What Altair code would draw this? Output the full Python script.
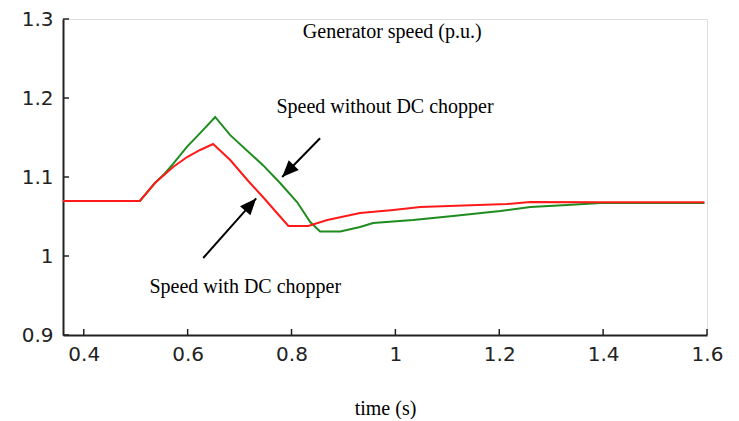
import altair as alt
import pandas as pd

# ---- data ----
red_t = [0.36, 0.508, 0.537, 0.572, 0.599, 0.624, 0.649, 0.682, 0.715, 0.745, 0.772,
         0.794, 0.832, 0.869, 0.932, 0.996, 1.048, 1.215, 1.260, 1.395, 1.595]
red_v = [1.0696, 1.0696, 1.0924, 1.1127, 1.1253, 1.1342, 1.1418, 1.1215, 1.0962, 1.0747, 1.0544,
         1.038, 1.038, 1.0456, 1.0544, 1.0582, 1.062, 1.0658, 1.0684, 1.068, 1.068]

green_t = [0.36, 0.508, 0.537, 0.556, 0.572, 0.599, 0.624, 0.653, 0.682, 0.745, 0.778, 0.811, 0.836,
           0.855, 0.894, 0.932, 0.957, 1.034, 1.111, 1.202, 1.260, 1.331, 1.395, 1.595]
green_v = [1.0696, 1.0696, 1.0924, 1.1045, 1.1165, 1.1385, 1.1555, 1.176, 1.153, 1.115, 1.0924, 1.068, 1.043,
           1.031, 1.031, 1.0367, 1.0418, 1.0456, 1.0506, 1.057, 1.062, 1.0646, 1.067, 1.067]

x_ticks = [0.4, 0.6, 0.8, 1.0, 1.2, 1.4, 1.6]
y_ticks = [0.9, 1.0, 1.1, 1.2, 1.3]

labels = ["Generator speed (p.u.)", "Speed without DC chopper", "Speed with DC chopper"]
label_t = [0.994, 0.980, 0.711]
label_v = [1.2835, 1.1886, 0.9608]

arrow_tail_t = [0.855, 0.630]
arrow_tail_v = [1.149, 0.9975]
arrow_tip_t = [0.782, 0.732]
arrow_tip_v = [1.100, 1.073]
arrow_angle = [224, 41.5]

W, H = 644, 316
XDOM = [0.36, 1.6]
YDOM = [0.9, 1.3]

df_red = pd.DataFrame({"t": red_t, "v": red_v})
df_green = pd.DataFrame({"t": green_t, "v": green_v})
df_lab = pd.DataFrame({"text": labels, "t": label_t, "v": label_v})
df_arr = pd.DataFrame({"t": arrow_tail_t, "v": arrow_tail_v,
                       "t2": arrow_tip_t, "v2": arrow_tip_v, "ang": arrow_angle})
df_xt = pd.DataFrame({"t": x_ticks})
df_yt = pd.DataFrame({"v": y_ticks})

xs = alt.Scale(domain=XDOM, nice=False, zero=False)
ys = alt.Scale(domain=YDOM, nice=False, zero=False)

x_axis = alt.Axis(values=x_ticks, format="~g", grid=False, tickSize=0, labelPadding=9,
                  labelFont="DejaVu Sans", labelFontSize=20, labelColor="#222",
                  domainColor="#222", domainWidth=2, title="time (s)",
                  titleFont="Liberation Serif", titleFontSize=20, titleFontWeight="normal",
                  titleColor="#000", titleBaseline="middle", titleY=73, labelFlush=False)
y_axis = alt.Axis(values=y_ticks, format="~g", grid=False, tickSize=0, labelPadding=10,
                  labelFont="DejaVu Sans", labelFontSize=20, labelColor="#222",
                  domainColor="#222", domainWidth=2, title=None, labelFlush=False)

base_x = alt.X("t:Q", scale=xs, axis=x_axis)
base_y = alt.Y("v:Q", scale=ys, axis=y_axis)

green = alt.Chart(df_green).mark_line(color="#1e8c1e", strokeWidth=2).encode(x=base_x, y=base_y)
red = alt.Chart(df_red).mark_line(color="#ff1a1a", strokeWidth=2).encode(
    x=alt.X("t:Q", scale=xs), y=alt.Y("v:Q", scale=ys))

xt = alt.Chart(df_xt).mark_rule(color="#222", strokeWidth=1.5).encode(
    x=alt.X("t:Q", scale=xs), y=alt.value(H), y2=alt.value(H - 6))
yt = alt.Chart(df_yt).mark_rule(color="#222", strokeWidth=1.5).encode(
    y=alt.Y("v:Q", scale=ys), x=alt.value(0), x2=alt.value(6))

texts = alt.Chart(df_lab).mark_text(font="Liberation Serif", fontSize=20, color="#000",
                                    align="center", baseline="middle").encode(
    x=alt.X("t:Q", scale=xs), y=alt.Y("v:Q", scale=ys), text="text:N")

shafts = alt.Chart(df_arr).mark_rule(color="#000", strokeWidth=2).encode(
    x=alt.X("t:Q", scale=xs), y=alt.Y("v:Q", scale=ys), x2="t2:Q", y2="v2:Q")
heads = alt.Chart(df_arr).mark_point(shape="M0,0 L-0.42,1 L0.42,1 Z", filled=True,
                                     color="#000", opacity=1, size=1100).encode(
    x=alt.X("t2:Q", scale=xs), y=alt.Y("v2:Q", scale=ys),
    angle=alt.Angle("ang:Q", scale=None))

chart = alt.layer(green, red, xt, yt, texts, shafts, heads).properties(
    width=W, height=H,
    padding={"left": 55, "top": 11, "right": 16, "bottom": 84},
    autosize=alt.AutoSizeParams(type="none"),
).configure_view(stroke=None).configure(background="white")

chart.save("out.html", embed_options={"renderer": "svg", "actions": False})
